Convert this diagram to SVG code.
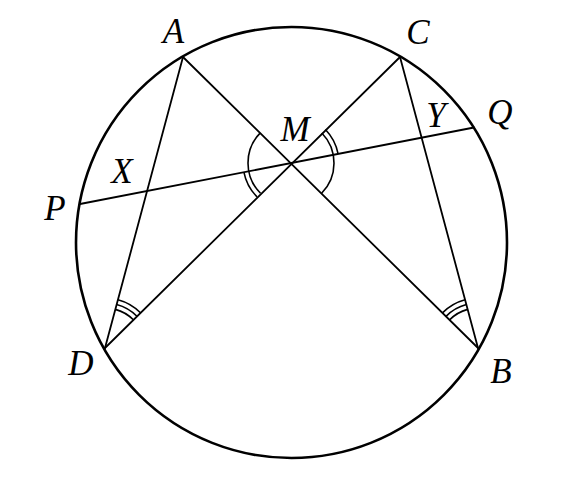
<svg xmlns="http://www.w3.org/2000/svg" width="575" height="480" viewBox="0 0 575 480">
<style>
.lbl{font-family:"Liberation Serif","DejaVu Serif",serif;font-style:italic;font-size:35px;fill:#000;text-anchor:middle}
.ln{stroke:#000;stroke-width:1.8;fill:none;stroke-linecap:round}
.arc{stroke:#000;stroke-width:1.6;fill:none}
</style>
<rect width="575" height="480" fill="#fff"/>
<g id="circle"><circle cx="291.5" cy="242.5" r="215.5" fill="none" stroke="#000" stroke-width="2.6"/></g>
<g id="connectors">
<line class="ln" x1="183" y1="57" x2="478" y2="348"/>
<line class="ln" x1="400" y1="57" x2="105" y2="348"/>
<line class="ln" x1="80" y1="204" x2="474" y2="127.5"/>
<line class="ln" x1="183" y1="57" x2="105" y2="348"/>
<line class="ln" x1="400" y1="57" x2="478" y2="348"/>
</g>
<g id="angles">
<path class="arc" d="M260.3,132.9 A43,43 0 0 0 260.5,193.3"/>
<path class="arc" d="M321.8,133 A43,43 0 0 1 321.6,193.2"/>
<path class="arc" d="M243.9,172.2 A48,48 0 0 0 257,196.9"/>
<path class="arc" d="M325.4,129.5 A48,48 0 0 1 338.1,153.9"/>
<path class="arc" d="M115.36,309.37 A40,40 0 0 1 133.36,319.79"/>
<path class="arc" d="M116.65,304.54 A45,45 0 0 1 136.91,316.27"/>
<path class="arc" d="M117.95,299.71 A50,50 0 0 1 140.45,312.74"/>
<path class="arc" d="M449.56,319.87 A40,40 0 0 1 467.64,309.37"/>
<path class="arc" d="M446.01,316.35 A45,45 0 0 1 466.35,304.54"/>
<path class="arc" d="M442.46,312.84 A50,50 0 0 1 465.05,299.71"/>
</g>
<g id="A"><text class="lbl" x="173.5" y="43">A</text></g>
<g id="C"><text class="lbl" x="418" y="44">C</text></g>
<g id="M"><text class="lbl" x="295" y="141">M</text></g>
<g id="X"><text class="lbl" x="122" y="183">X</text></g>
<g id="P"><text class="lbl" x="55" y="220">P</text></g>
<g id="Y"><text class="lbl" x="436" y="127">Y</text></g>
<g id="Q"><text class="lbl" x="500" y="124">Q</text></g>
<g id="D"><text class="lbl" x="81" y="375">D</text></g>
<g id="B"><text class="lbl" x="501" y="383">B</text></g>
</svg>
